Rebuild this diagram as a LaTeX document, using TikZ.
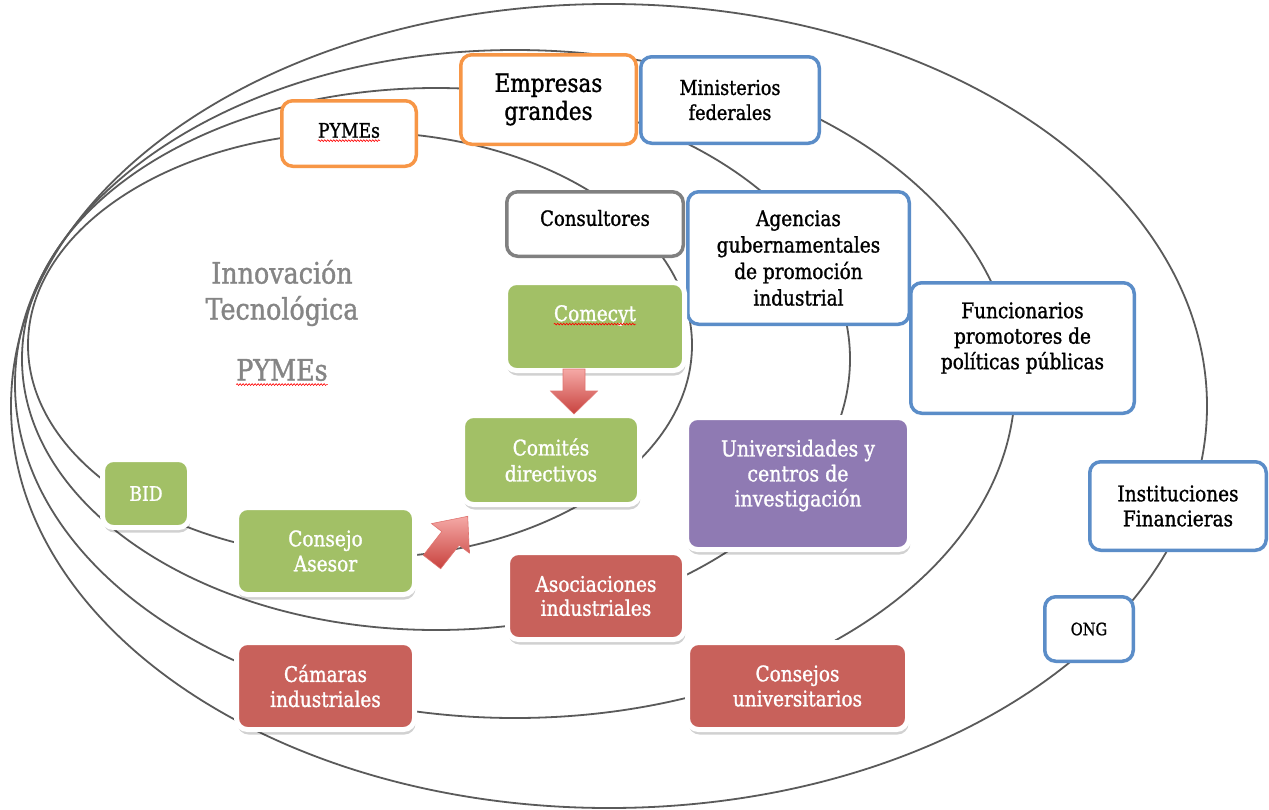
\documentclass[tikz,border=0pt]{standalone}
\usepackage{fontspec}
\setmainfont{DejaVu Serif}[FakeStretch=0.86, FakeBold=1.2]
\usetikzlibrary{shadows,decorations.pathmorphing}
\definecolor{ellc}{HTML}{5A5A5A}
\definecolor{orB}{HTML}{F79646}
\definecolor{blB}{HTML}{5B8DC8}
\definecolor{grB}{HTML}{808080}
\definecolor{grF}{HTML}{A2C066}
\definecolor{puF}{HTML}{8F7AB3}
\definecolor{rdF}{HTML}{C8615B}
\definecolor{txG}{HTML}{858585}
\definecolor{arL}{HTML}{F5A9A6}
\definecolor{arD}{HTML}{C8423E}
\definecolor{arB}{HTML}{E07470}
\newcommand{\fz}[2]{\fontsize{#1}{#2}\selectfont}
\begin{document}
\begin{tikzpicture}[x=1pt,y=-1pt,
  ell/.style={draw=ellc, line width=1.8pt},
  obox/.style={draw=#1, line width=3.5pt, rounded corners=11pt, fill=white, align=center, text=black, inner sep=0pt},
  fbox/.style={fill=#1, draw=white, line width=5pt, rounded corners=11pt, align=center, text=white, inner sep=0pt,
     drop shadow={shadow xshift=1pt, shadow yshift=-5pt, opacity=0.18, fill=black, draw=none}},
  txt/.style={inner sep=0pt, align=center},
  squig/.style={draw=red, line width=0.6pt, decorate, decoration={snake, segment length=3pt, amplitude=0.9pt}},
  blockarrow/.style={top color=arL, bottom color=arD, draw=arB, line width=0.6pt}
]
\fill[white] (0,0) rectangle (1269,809);
\useasboundingbox (0,0) rectangle (1269,809);

% nested ellipses
\draw[ell] (609,406) ellipse [x radius=598pt, y radius=402pt];
\draw[ell] (515,384) ellipse [x radius=500pt, y radius=334pt];
\draw[ell] (436,359) ellipse [x radius=414pt, y radius=271pt];
\draw[ell] (360,345) ellipse [x radius=332pt, y radius=213pt];

% central labels
\node[txt, font=\fz{29.5}{36}, text=txG] (innov) at (282,293) {Innovación\\Tecnológica};
\node[txt, font=\fz{29.5}{36}, text=txG] (pymesbig) at (282,370) {PYMEs};
\draw[squig] ([yshift=-4pt]pymesbig.base west) -- ([yshift=-4pt]pymesbig.base east);

% outlined boxes
\node[obox=orB, minimum width=134.5pt, minimum height=65.5pt] (pymesB) at (349,133.5) {};
\node[txt, font=\fz{20}{22}] (pymesT) at ([yshift=3pt]pymesB.center) {PYMEs};
\draw[squig] ([yshift=-3pt]pymesT.base west) -- ([yshift=-3pt]pymesT.base east);

\node[obox=orB, minimum width=175.5pt, minimum height=89.5pt, font=\fz{25}{28}] (empresas) at (548.5,99.5) {Empresas\\grandes};
\node[obox=blB, minimum width=178.5pt, minimum height=86.5pt, font=\fz{20.5}{25}] (ministerios) at (730,100) {Ministerios\\federales};
\node[obox=grB, minimum width=176.5pt, minimum height=64.5pt] (consultB) at (595,224) {};
\node[txt, font=\fz{21}{24}] (consultT) at ([yshift=6pt]consultB.center) {Consultores};
\node[obox=blB, minimum width=221.5pt, minimum height=132.5pt, font=\fz{21.5}{26.5}] (agencias) at (798.5,258) {Agencias\\gubernamentales\\de promoción\\industrial};
\node[obox=blB, minimum width=223.5pt, minimum height=130.5pt] (funcB) at (1022.5,348) {};
\node[txt, font=\fz{21.5}{25.5}] (funcT) at ([yshift=10pt]funcB.center) {Funcionarios\\promotores de\\políticas públicas};
\node[obox=blB, minimum width=176.5pt, minimum height=88.5pt, font=\fz{21.5}{25}] (instfin) at (1178,506) {Instituciones\\Financieras};
\node[obox=blB, minimum width=88.5pt, minimum height=64.5pt, font=\fz{17}{20}] (ong) at (1089,629) {ONG};

% filled boxes
\node[fbox=grF, minimum width=179pt, minimum height=88pt] (comecytB) at (595,326.5) {};
\node[txt, font=\fz{21.5}{24}, text=white] (comecytT) at ([yshift=11pt]comecytB.center) {Comecyt};
\draw[squig] ([yshift=-3pt]comecytT.base west) -- ([yshift=-3pt]comecytT.base east);
\node[fbox=grF, minimum width=177pt, minimum height=89pt, font=\fz{21.5}{26}] (comites) at (551,460) {Comités\\directivos};
\node[fbox=puF, minimum width=223pt, minimum height=132pt] (univB) at (798,483.5) {};
\node[txt, font=\fz{22}{25}, text=white] (univT) at ([yshift=8pt]univB.center) {Universidades y\\centros de\\investigación};
\node[fbox=grF, minimum width=87pt, minimum height=68pt, font=\fz{20}{22}] (bid) at (146,493.5) {BID};
\node[fbox=grF, minimum width=178pt, minimum height=87pt, font=\fz{21.5}{25}] (consejo) at (325.5,551) {Consejo\\Asesor};
\node[fbox=rdF, minimum width=177pt, minimum height=87pt, font=\fz{21.5}{24}] (asoc) at (596,596) {Asociaciones\\industriales};
\node[fbox=rdF, minimum width=178pt, minimum height=87pt, font=\fz{21.5}{25}] (camaras) at (325.5,686) {Cámaras\\industriales};
\node[fbox=rdF, minimum width=220pt, minimum height=87pt, font=\fz{21.5}{25}] (consejos) at (797.5,686) {Consejos\\universitarios};

% block arrows
\begin{scope}[shift={(574,369)}]
\shade[blockarrow] (-11,0) -- (11,0) -- (11,22) -- (23.5,22) -- (0,45) -- (-23.5,22) -- (-11,22) -- cycle;
\end{scope}
\begin{scope}[shift={(432,562)}, rotate=52]
\shade[blockarrow] (0,-11) -- (30,-11) -- (30,-24) -- (58,0) -- (30,24) -- (30,11) -- (0,11) -- cycle;
\end{scope}
\end{tikzpicture}
\end{document}
